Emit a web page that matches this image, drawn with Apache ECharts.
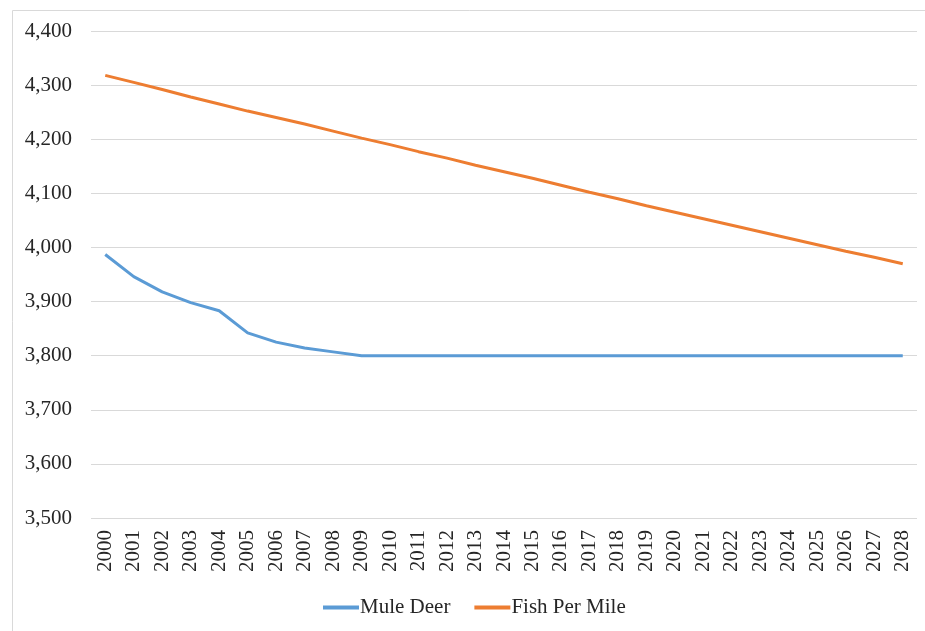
<!DOCTYPE html>
<html><head><meta charset="utf-8">
<script src="https://cdn.jsdelivr.net/npm/echarts@6/dist/echarts.min.js"></script>
<style>html,body{margin:0;padding:0;background:#fff}#c{width:925px;height:631px}</style>
</head><body><div id="c"></div>
<script>
const years = ['2000','2001','2002','2003','2004','2005','2006','2007','2008','2009','2010','2011','2012','2013','2014','2015','2016','2017','2018','2019','2020','2021','2022','2023','2024','2025','2026','2027','2028'];
const muleDeer = [3987,3946,3918,3898,3883,3842,3825,3814,3807,3800,3800,3800,3800,3800,3800,3800,3800,3800,3800,3800,3800,3800,3800,3800,3800,3800,3800,3800,3800];
const fishPerMile = [4318,4305,4292,4278,4265,4252,4240,4228,4215,4202,4190,4177,4165,4152,4140,4128,4115,4102,4090,4077,4065,4053,4041,4029,4017,4005,3993,3982,3970];
const yMin = 3500, yMax = 4400, yStep = 100;
const font = 'Liberation Serif';
const chart = echarts.init(document.getElementById('c'));
chart.setOption({
  animation: false,
  textStyle: {fontFamily: font},
  graphic: [{type: 'rect', left: 10, top: 8, shape: {width: 930, height: 700}, style: {fill: 'none', stroke: '#d9d9d9', lineWidth: 1}, silent: true}],
  grid: {left: 91, right: 8, top: 31, bottom: 113},
  legend: {
    top: 592, left: 318, itemWidth: 36, itemHeight: 4, itemGap: 24,
    icon: 'rect',
    textStyle: {fontFamily: font, fontSize: 21, color: '#262626', padding: [0,0,0,-4]},
    data: ['Mule Deer', 'Fish Per Mile']
  },
  xAxis: {
    type: 'category', data: years, boundaryGap: true,
    axisLine: {show: false}, axisTick: {show: false},
    axisLabel: {rotate: 90, interval: 0, fontFamily: font, fontSize: 21, color: '#262626', margin: 12}
  },
  yAxis: {
    type: 'value', min: yMin, max: yMax, interval: yStep,
    axisLine: {show: false}, axisTick: {show: false},
    axisLabel: {fontFamily: font, fontSize: 21, color: '#262626', margin: 19,
      formatter: v => v.toLocaleString('en-US')},
    splitLine: {lineStyle: {color: '#d9d9d9', width: 1}}
  },
  series: [
    {name: 'Mule Deer', type: 'line', data: muleDeer, showSymbol: false, symbol: 'none',
     lineStyle: {color: '#5b9bd5', width: 3}, itemStyle: {color: '#5b9bd5'}},
    {name: 'Fish Per Mile', type: 'line', data: fishPerMile, showSymbol: false, symbol: 'none',
     lineStyle: {color: '#ed7d31', width: 3}, itemStyle: {color: '#ed7d31'}}
  ]
});
</script></body></html>
